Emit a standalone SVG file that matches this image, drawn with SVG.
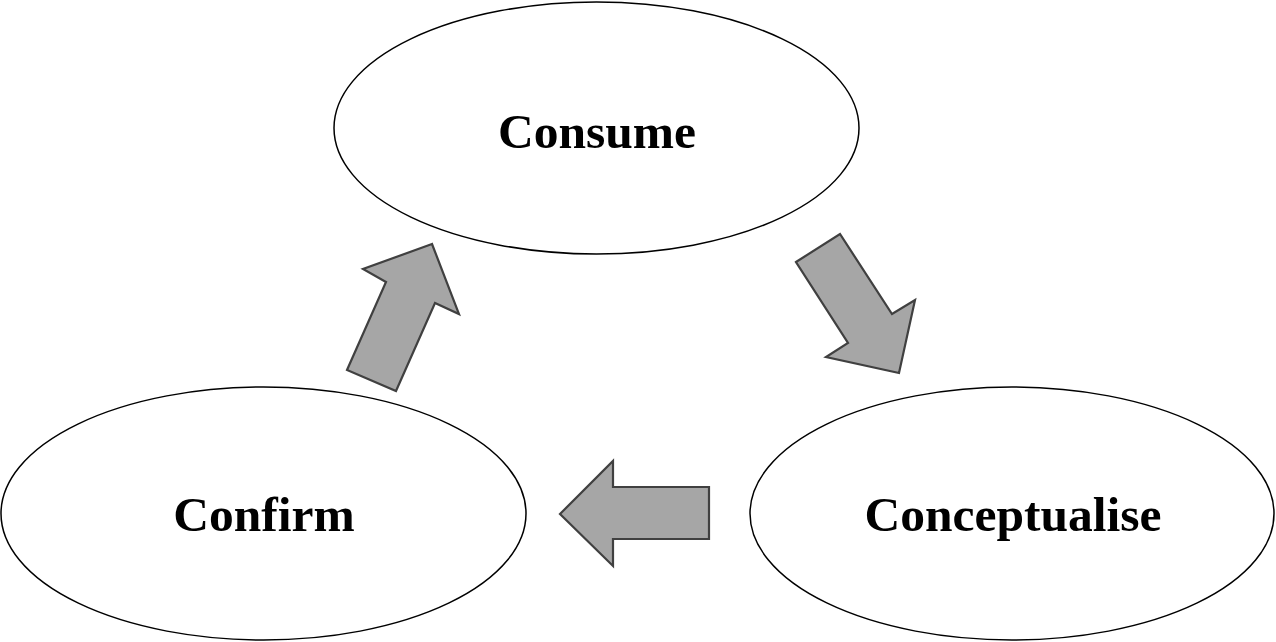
<svg xmlns="http://www.w3.org/2000/svg" width="1276" height="642" viewBox="0 0 1276 642">
<style>
.node{fill:#fff;stroke:#000;stroke-width:1.5}
.lbl{font-family:"Liberation Serif","Times New Roman",serif;font-weight:bold;font-size:49.5px;fill:#000;text-anchor:middle}
.arr{fill:#a6a6a6;stroke:#404040;stroke-width:2.2;stroke-linejoin:miter}
</style>
<rect width="1276" height="642" fill="#fff"/>
<g id="consume"><ellipse class="node" cx="596.5" cy="128" rx="262.5" ry="126"/><text class="lbl" x="597" y="148">Consume</text></g>
<g id="confirm"><ellipse class="node" cx="263.5" cy="513.5" rx="262.5" ry="126.5"/><text class="lbl" x="264" y="531">Confirm</text></g>
<g id="conceptualise"><ellipse class="node" cx="1012" cy="513.5" rx="262" ry="126.5"/><text class="lbl" x="1013" y="531">Conceptualise</text></g>
<g id="connectors">
<polygon class="arr" points="432,244 363,269 386,282 347,370 396,391 435,303 459,314"/>
<polygon class="arr" points="796,262 840,234 892,314 915,300 899,373 826,357 848,343"/>
<polygon class="arr" points="560,514 613,461 613,487 709,487 709,539 613,539 613,566"/>
</g>
</svg>
